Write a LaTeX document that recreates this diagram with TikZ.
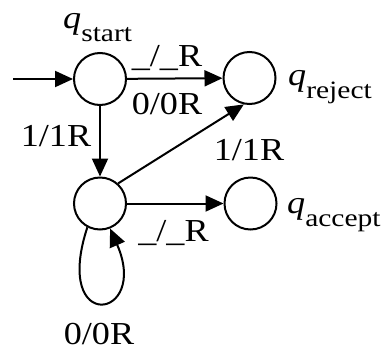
\documentclass[tikz,border=0pt]{standalone}
\usepackage{fontspec}
\setmainfont{Liberation Serif}[FakeStretch=1.13]
\newfontfamily\subfont{Liberation Serif}[FakeStretch=1.18]
\usetikzlibrary{arrows.meta}
\newcommand\qlabel[1]{\textit{q}\raisebox{-13pt}{\subfont\fontsize{25}{25}\selectfont #1}}
\begin{document}
\begin{tikzpicture}[x=1pt,y=-1pt,
  state/.style={circle,draw,line width=2pt,minimum size=52pt,inner sep=0pt},
  edge/.style={line width=2pt,-{Triangle[length=18pt,width=16pt]}},
  lbl/.style={inner sep=0pt,font=\fontsize{32}{38}\selectfont},
  qname/.style={lbl,anchor=base west}]
\useasboundingbox (0,0) rectangle (387,351);

% states
\node[state] (s) at (100,79) {};
\node[state] (r) at (249.5,78) {};
\node[state] (m) at (100,203.5) {};
\node[state] (a) at (250.5,203.5) {};

% state names
\node[qname] (ls) at (63,28) {\qlabel{start}};
\node[qname] (lr) at (288,85) {\qlabel{reject}};
\node[qname] (la) at (287,213) {\qlabel{accept}};

% initial arrow
\coordinate (init) at (13,79);
\draw[edge] (init) -- (s);

% transitions
\draw[edge] (s) -- (r);
\draw[edge] (s) -- (m);
\draw[edge] (m.48) -- (r.258);
\draw[edge] (m) -- (a);
\draw[edge] (m.242) .. controls (52,335) and (150,320) .. (m.292);

% transition labels
\node[lbl,anchor=base] (t1) at (167,66) {\_/\_R};
\node[lbl,anchor=base] (t2) at (167,114) {0/0R};
\node[lbl,anchor=base] (t3) at (56,146) {1/1R};
\node[lbl,anchor=base] (t4) at (249,160) {1/1R};
\node[lbl,anchor=base] (t5) at (173.5,241) {\_/\_R};
\node[lbl,anchor=base] (t6) at (99,344) {0/0R};
\end{tikzpicture}
\end{document}
